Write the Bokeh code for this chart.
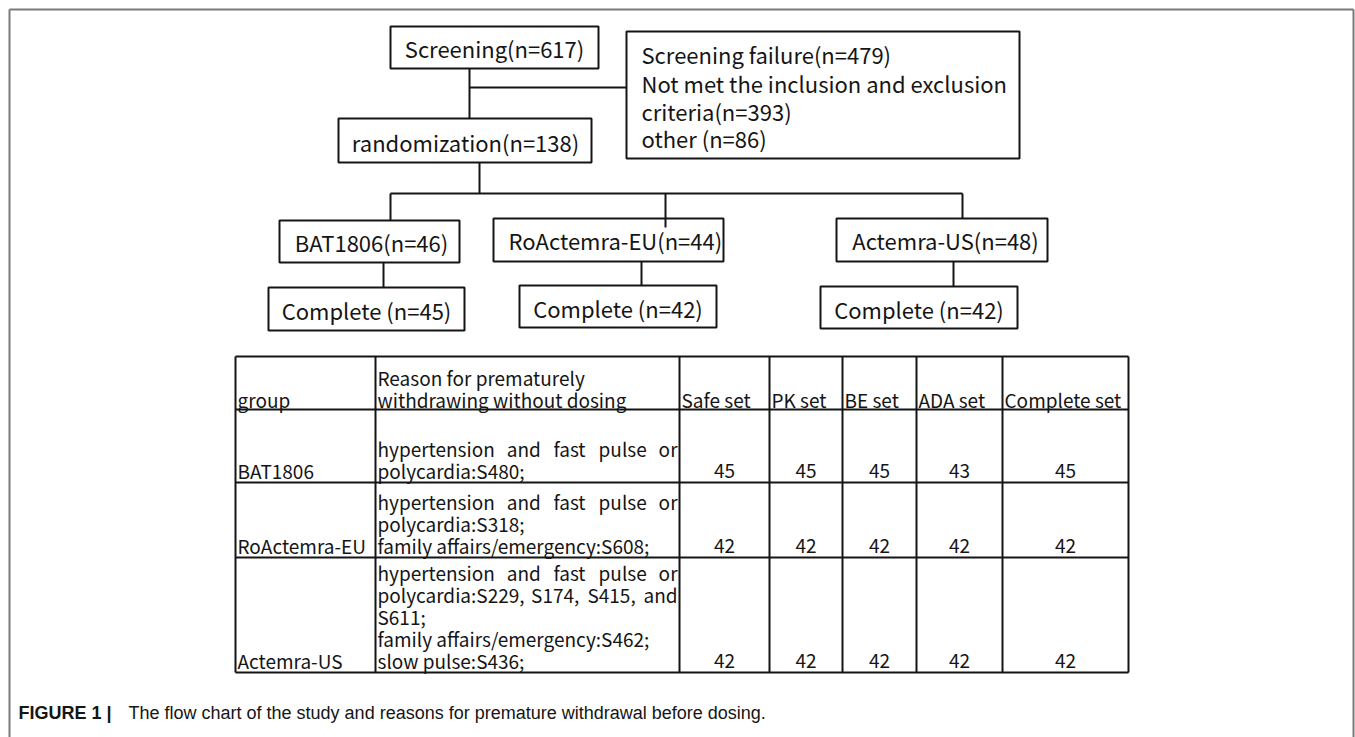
from bokeh.plotting import figure
from bokeh.models import Range1d
from bokeh.embed import file_html
from bokeh.resources import INLINE
from bokeh.core.properties import value

# ---------------- data ----------------
screening_label = "Screening(n=617)"
randomization_label = "randomization(n=138)"
failure_lines = ["Screening failure(n=479)",
                 "Not met the inclusion and exclusion",
                 "criteria(n=393)",
                 "other (n=86)"]
arm_labels = ["BAT1806(n=46)", "RoActemra-EU(n=44)", "Actemra-US(n=48)"]
complete_labels = ["Complete (n=45)", "Complete (n=42)", "Complete (n=42)"]

header_group = "group"
header_reason = ["Reason for prematurely", "withdrawing without dosing"]
set_headers = ["Safe set", "PK set", "BE set", "ADA set", "Complete set"]
table_groups = ["BAT1806", "RoActemra-EU", "Actemra-US"]
safe_set = [45, 42, 42]
pk_set = [45, 42, 42]
be_set = [45, 42, 42]
ada_set = [43, 42, 42]
complete_set = [45, 42, 42]
# (line text, justified?)
reasons = [
    [("hypertension and fast pulse or", True), ("polycardia:S480;", False)],
    [("hypertension and fast pulse or", True), ("polycardia:S318;", False),
     ("family affairs/emergency:S608;", False)],
    [("hypertension and fast pulse or", True), ("polycardia:S229, S174, S415, and", True),
     ("S611;", False), ("family affairs/emergency:S462;", False), ("slow pulse:S436;", False)],
]
caption_bold = "FIGURE 1 |"
caption_text = "The flow chart of the study and reasons for premature withdrawal before dosing."

# ---------------- layout ----------------
W, H = 1355, 737
FONT = "Noto Sans CJK SC"
INK = "#151515"

p = figure(width=W, height=H, x_range=Range1d(0, W), y_range=Range1d(H, 0),
           output_backend="svg", toolbar_location=None, min_border=0,
           x_axis_location=None, y_axis_location=None)
p.grid.visible = False
p.outline_line_color = None
p.background_fill_color = "white"
p.border_fill_color = "white"

# outer frame
p.segment(x0=[9, 9, 1353], y0=[9, 9, 9], x1=[1353, 9, 1353], y1=[9, 745, 745],
          line_color="#7a7a7a", line_width=2)

def box(l, r, t, b, lw=2):
    p.quad(left=[l], right=[r], top=[t], bottom=[b], fill_color=None,
           line_color=INK, line_width=lw)

def txt(x, y, s, size, align="left", font=FONT, style="normal"):
    p.text(x=[x], y=[y], text=[s], text_font=value(font), text_font_size=f"{size}px",
           text_align=align, text_baseline="middle", text_color=INK, text_font_style=style)

# --- flowchart ---
FS = 22
box(390, 598, 26, 68)
txt(494, 47, screening_label, FS, "center")
box(626, 1019, 31, 158)
for i, s in enumerate(failure_lines):
    txt(641, [53, 82, 110, 137][i], s, FS)
box(338, 591, 118, 162)
txt(465, 141, randomization_label, FS, "center")

conn_x0 = [469, 469, 479, 390, 390, 665, 962, 383, 641, 953]
conn_y0 = [68, 87, 162, 193, 193, 193, 193, 262, 261, 261]
conn_x1 = [469, 626, 479, 962, 390, 665, 962, 383, 641, 953]
conn_y1 = [118, 87, 193, 193, 220, 227, 218, 287, 285, 286]
p.segment(x0=conn_x0, y0=conn_y0, x1=conn_x1, y1=conn_y1, line_color=INK, line_width=2)

arm_boxes = [(279, 459, 220, 262), (493, 723, 218, 261), (836, 1047, 218, 261)]
arm_text = [(371, "center"), (508, "left"), (945, "center")]
for (l, r, t, b), (tx, al), s in zip(arm_boxes, arm_text, arm_labels):
    box(l, r, t, b)
    txt(tx, (t + b) / 2, s, FS, al)

comp_boxes = [(268, 464, 287, 330), (519, 716, 285, 327), (820, 1017, 286, 328)]
for (l, r, t, b), s in zip(comp_boxes, complete_labels):
    box(l, r, t, b)
    txt((l + r) / 2, (t + b) / 2 + 1, s, FS, "center")

# --- table ---
TS = 19
col_x = [235, 375, 679, 769, 842, 916, 1002, 1128]
row_y = [356, 409, 482, 557, 672]
p.segment(x0=[col_x[0]] * len(row_y), x1=[col_x[-1]] * len(row_y), y0=row_y, y1=row_y,
          line_color=INK, line_width=2)
p.segment(x0=col_x, x1=col_x, y0=[row_y[0]] * len(col_x), y1=[row_y[-1]] * len(col_x),
          line_color=INK, line_width=2)

LH = 22
txt(col_x[0] + 2, 399, header_group, TS)
txt(col_x[1] + 2, 377, header_reason[0], TS)
txt(col_x[1] + 2, 399, header_reason[1], TS)
for i, s in enumerate(set_headers):
    txt(col_x[2 + i] + 2, 399, s, TS)

SSW = {'a': .482, 'b': .553, 'c': .448, 'd': .554, 'e': .487, 'f': .292, 'g': .494, 'h': .542,
       'i': .247, 'j': .254, 'k': .489, 'l': .255, 'm': .827, 'n': .546, 'o': .532, 'p': .553,
       'q': .554, 'r': .331, 's': .399, 't': .338, 'u': .541, 'v': .456, 'w': .705, 'x': .45,
       'y': .456, 'z': .42, 'S': .497, ':': .226, ';': .226, ',': .226, '/': .34, ' ': .202}

def wwidth(w, size):
    return sum(SSW.get(c, .52) for c in w) * size * 1.12

def justified(line, x0, x1, y, size):
    words = line.split()
    ws = [wwidth(w, size) for w in words]
    gap = (x1 - x0 - sum(ws)) / (len(words) - 1)
    x = x0
    for i, (w, wd) in enumerate(zip(words, ws)):
        if i == len(words) - 1:
            txt(x1, y, w, size, "right")
        else:
            txt(x, y, w, size)
        x += wd + gap

sets = [safe_set, pk_set, be_set, ada_set, complete_set]
for gi, g in enumerate(table_groups):
    bottom_line = row_y[gi + 2] - 12
    lines = reasons[gi]
    n = len(lines)
    for li, (s, just) in enumerate(lines):
        y = bottom_line - (n - 1 - li) * LH
        if just:
            justified(s, col_x[1] + 2, col_x[2] - 2, y, TS)
        else:
            txt(col_x[1] + 2, y, s, TS)
    txt(col_x[0] + 2, bottom_line, g, TS)
    for si, vals in enumerate(sets):
        txt((col_x[2 + si] + col_x[3 + si]) / 2, bottom_line, str(vals[gi]), TS, "center")

# --- caption ---
txt(18, 712, caption_bold, 18, font="Liberation Sans", style="bold")
txt(128, 712, caption_text, 18, font="Liberation Sans")

open("out.html", "w").write(file_html(p, INLINE))
